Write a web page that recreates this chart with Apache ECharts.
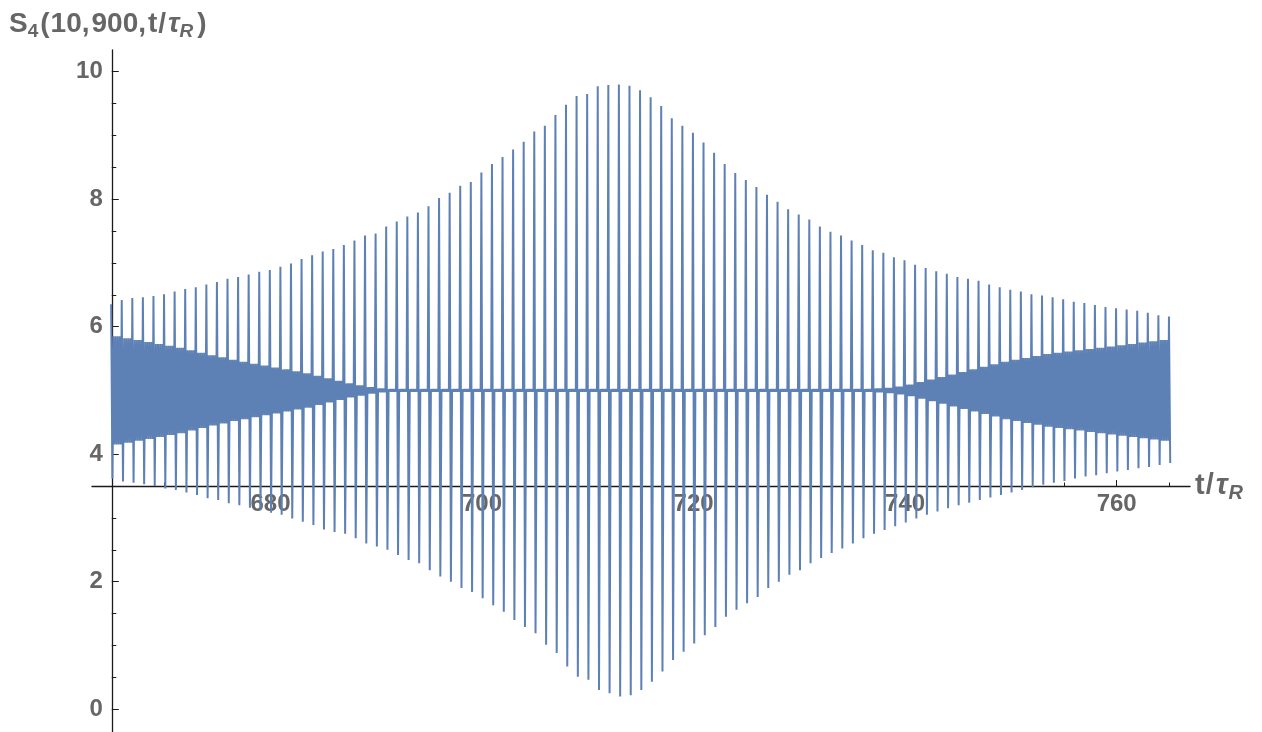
<!DOCTYPE html>
<html><head><meta charset="utf-8">
<script src="https://cdn.jsdelivr.net/npm/echarts@6/dist/echarts.min.js"></script>
<style>html,body{margin:0;padding:0;background:#fff}#c{width:1262px;height:732px}</style>
</head><body><div id="c"></div>
<script>
// times of the large revival spikes (t / tau_R)
const spikeT = [665,666,667,668,669,670,671,672,673,674,
675,676,677,678,679,680,681,682,683,684,
685,686,687,688,689,690,691,692,693,694,
695,696,697,698,699,700,701,702,703,704,
705,706,707,708,709,710,711,712,713,714,
715,716,717,718,719,720,721,722,723,724,
725,726,727,728,729,730,731,732,733,734,
735,736,737,738,739,740,741,742,743,744,
745,746,747,748,749,750,751,752,753,754,
755,756,757,758,759,760,761,762,763,764,
765];
// spike maxima
const spikeHi = [6.35,6.42,6.45,6.46,6.48,6.51,6.55,6.59,6.62,6.66,
6.70,6.75,6.78,6.82,6.86,6.89,6.94,6.99,7.06,7.12,
7.18,7.22,7.28,7.35,7.43,7.46,7.57,7.65,7.73,7.79,
7.89,8.02,8.10,8.21,8.27,8.42,8.55,8.66,8.78,8.90,
9.06,9.15,9.32,9.48,9.62,9.65,9.77,9.79,9.80,9.78,
9.71,9.60,9.46,9.27,9.15,9.04,8.89,8.73,8.55,8.41,
8.30,8.19,8.07,7.96,7.84,7.76,7.68,7.57,7.49,7.43,
7.35,7.28,7.20,7.16,7.09,7.04,6.97,6.92,6.87,6.83,
6.78,6.75,6.72,6.66,6.62,6.58,6.55,6.51,6.49,6.46,
6.43,6.39,6.37,6.34,6.31,6.29,6.27,6.25,6.22,6.18,
6.16];
// spike minima
const spikeLo = [3.62,3.57,3.55,3.53,3.50,3.46,3.44,3.40,3.36,3.31,
3.28,3.23,3.20,3.16,3.12,3.08,3.05,2.99,2.94,2.89,
2.82,2.78,2.75,2.68,2.60,2.55,2.50,2.42,2.34,2.29,
2.18,2.08,2.00,1.90,1.84,1.74,1.63,1.53,1.40,1.29,
1.19,1.01,0.88,0.67,0.51,0.46,0.30,0.25,0.20,0.22,
0.30,0.43,0.59,0.77,0.90,1.03,1.16,1.29,1.45,1.56,
1.66,1.76,1.90,2.00,2.11,2.18,2.29,2.37,2.45,2.52,
2.60,2.68,2.75,2.81,2.87,2.93,2.99,3.05,3.10,3.15,
3.20,3.24,3.28,3.32,3.36,3.40,3.44,3.48,3.52,3.55,
3.58,3.62,3.65,3.67,3.70,3.73,3.75,3.78,3.80,3.83,
3.86];
// half width of the fast oscillation band around the centre, per period
const bandHalf = [0.85,0.82,0.79,0.76,0.73,0.70,0.67,0.63,0.59,0.55,
0.52,0.48,0.45,0.42,0.39,0.36,0.33,0.30,0.27,0.23,
0.19,0.15,0.11,0.08,0.05,0.03,0.02,0.02,0.02,0.02,
0.02,0.02,0.02,0.02,0.02,0.02,0.02,0.02,0.02,0.02,
0.02,0.02,0.02,0.02,0.02,0.02,0.02,0.02,0.02,0.02,
0.02,0.02,0.02,0.02,0.02,0.02,0.02,0.02,0.02,0.02,
0.02,0.02,0.02,0.02,0.02,0.02,0.02,0.02,0.02,0.02,
0.02,0.02,0.03,0.04,0.06,0.09,0.13,0.17,0.21,0.25,
0.29,0.33,0.37,0.41,0.45,0.48,0.51,0.54,0.57,0.59,
0.61,0.63,0.65,0.67,0.69,0.71,0.73,0.75,0.77,0.79,
0.81];
const bandCenter = 5;
const xMajorTicks = [680,700,720,740,760];
const xMinorTicks = [665,670,675,685,690,695,705,710,715,725,730,735,745,750,755,765];
const yMajorTicks = [0,2,4,6,8,10];
const yMinorTicks = [0.5,1,1.5,2.5,3,3.5,4.5,5,5.5,6.5,7,7.5,8.5,9,9.5];
const xRange = [663.13, 766.93];
const yRange = [-0.358, 10.34];
const xCross = 665;   // where the vertical axis crosses
const yCross = 3.5;   // where the horizontal axis crosses

// build the polyline: each period = spike (max then min) followed by the fast band ripple
const ripple = [0.17, 0.27, 0.37, 0.47, 0.57, 0.67, 0.77, 0.87];
const pts = [];
for (let k = 0; k < spikeT.length; k++) {
  const t = spikeT[k], a = bandHalf[k];
  pts.push([t - 0.06, spikeHi[k]]);
  pts.push([t + 0.06, spikeLo[k]]);
  if (k < spikeT.length - 1) {
    ripple.forEach((o, i) => pts.push([t + o, bandCenter + (i % 2 === 0 ? a : -a)]));
  }
}

const G = {left: 92, top: 50, width: 1098, height: 682};
const xAxisOffset = -(yCross - yRange[0]) / (yRange[1] - yRange[0]) * G.height;
const yAxisOffset = -(xCross - xRange[0]) / (xRange[1] - xRange[0]) * G.width;

const txt = '#666666';
const axc = '#1a1a1a';
const font = 'Liberation Sans, Arial, sans-serif';
const lab = {color: txt, fontSize: 24, fontWeight: 'bold', fontFamily: font};
const tok = (size, italic, pad) => ({color: txt, fontSize: size, fontWeight: 'bold',
  fontStyle: italic ? 'italic' : 'normal', fontFamily: font, padding: pad});

const chart = echarts.init(document.getElementById('c'), null, {renderer: 'canvas'});
chart.setOption({
  animation: false,
  title: {
    text: '{s|S}{sub|4}{lp|(}{n|10}{cm|,}{n|900}{cm|,}{t|t}{sl|/}{tau|τ}{r|R}{rp|)}',
    left: 9, top: 8, padding: 0,
    textStyle: {
      rich: {
        s: tok(28, false, [0, 0, 0, 0]),
        sub: tok(19, false, [14, 2, 0, 0]),
        lp: tok(28, false, [0, 1, 0, 0]),
        n: tok(28, false, [0, 0, 0, 0]),
        cm: tok(28, false, [0, 2, 0, 0]),
        t: tok(28, false, [0, 1, 0, 0]),
        sl: tok(28, false, [0, 2, 0, 0]),
        tau: tok(28, true, [0, 0, 0, 0]),
        r: tok(19, true, [14, 4, 0, 0]),
        rp: tok(28, false, [0, 0, 0, 0])
      }
    }
  },
  grid: Object.assign({containLabel: false, outerBoundsMode: 'none'}, G),
  xAxis: [
    {
      type: 'value', position: 'bottom', offset: xAxisOffset, min: xRange[0], max: xRange[1],
      axisLine: {show: true, onZero: false, lineStyle: {color: axc, width: 1.3}},
      axisTick: {show: true, inside: true, length: 6, customValues: xMajorTicks, lineStyle: {color: axc, width: 1}},
      axisLabel: Object.assign({customValues: xMajorTicks, margin: 6}, lab),
      splitLine: {show: false},
      name: '{t|t}{sl|/}{tau|τ}{r|R}', nameLocation: 'end', nameGap: 5,
      nameTextStyle: {
        rich: {
          t: tok(29, false, [0, 1, 0, 0]),
          sl: tok(29, false, [0, 2, 0, 0]),
          tau: tok(29, true, [0, 1, 0, 0]),
          r: tok(20, true, [14, 0, 0, 0])
        }
      }
    },
    {
      type: 'value', position: 'bottom', offset: xAxisOffset, min: xRange[0], max: xRange[1],
      axisLine: {show: false, onZero: false},
      axisTick: {show: true, inside: true, length: 3.5, customValues: xMinorTicks, lineStyle: {color: axc, width: 1}},
      axisLabel: {show: false}, splitLine: {show: false}
    }
  ],
  yAxis: [
    {
      type: 'value', position: 'left', offset: yAxisOffset, min: yRange[0], max: yRange[1],
      axisLine: {show: true, onZero: false, lineStyle: {color: axc, width: 1.3}},
      axisTick: {show: true, inside: true, length: 7, customValues: yMajorTicks, lineStyle: {color: axc, width: 1}},
      axisLabel: Object.assign({customValues: yMajorTicks, margin: 9}, lab),
      splitLine: {show: false}
    },
    {
      type: 'value', position: 'left', offset: yAxisOffset, min: yRange[0], max: yRange[1],
      axisLine: {show: false, onZero: false},
      axisTick: {show: true, inside: true, length: 4.5, customValues: yMinorTicks, lineStyle: {color: axc, width: 1}},
      axisLabel: {show: false}, splitLine: {show: false}
    }
  ],
  series: [{
    type: 'line', xAxisIndex: 0, yAxisIndex: 0,
    data: pts, showSymbol: false, symbol: 'none', sampling: null,
    silent: true, z: 1,
    lineStyle: {color: '#5E81B5', width: 2}
  }]
});
</script>
</body></html>
